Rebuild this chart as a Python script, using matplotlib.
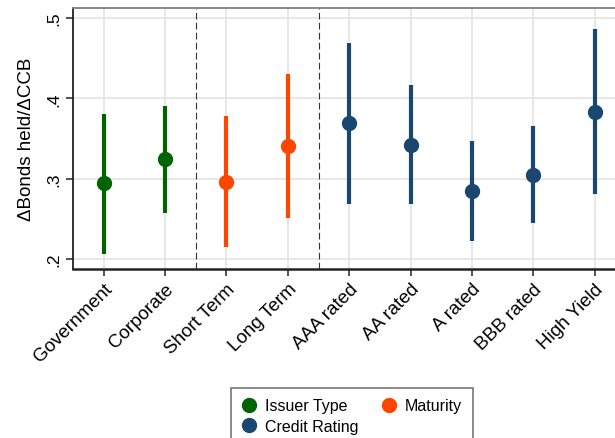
import matplotlib
matplotlib.use("Agg")
import matplotlib.pyplot as plt
from matplotlib.lines import Line2D

plt.rcParams['font.family'] = ['Liberation Sans', 'DejaVu Sans']

# categories and estimates
categories = ["Government", "Corporate", "Short Term", "Long Term",
              "AAA rated", "AA rated", "A rated", "BBB rated", "High Yield"]
estimate = [0.295, 0.325, 0.296, 0.341, 0.369, 0.342, 0.285, 0.305, 0.383]
ci_low = [0.207, 0.258, 0.215, 0.251, 0.269, 0.269, 0.223, 0.245, 0.281]
ci_high = [0.381, 0.391, 0.378, 0.430, 0.469, 0.416, 0.347, 0.366, 0.486]
group = ["Issuer Type", "Issuer Type", "Maturity", "Maturity",
         "Credit Rating", "Credit Rating", "Credit Rating", "Credit Rating", "Credit Rating"]
group_colors = {"Issuer Type": "#006400", "Maturity": "#ff4500", "Credit Rating": "#1a476f"}
yticks = [0.2, 0.3, 0.4, 0.5]
ytick_labels = [".2", ".3", ".4", ".5"]

fig = plt.figure(figsize=(6.15, 4.39), dpi=100)
ax = fig.add_axes([0.1187, 0.385, 0.8813, 0.595])

for i in range(len(categories)):
    c = group_colors[group[i]]
    ax.plot([i, i], [ci_low[i], ci_high[i]], color=c, lw=3.0, solid_capstyle='butt', zorder=3)
    ax.plot(i, estimate[i], 'o', color=c, ms=10, zorder=4)

# separators between groups
for xs in [1.5, 3.5]:
    ax.axvline(xs, color='#333333', lw=0.8, ls=(0, (6, 3)), zorder=2)

ax.set_xlim(-0.5, 8.33)
ax.set_ylim(0.1878, 0.5125)
ax.set_xticks(range(len(categories)))
ax.set_xticklabels(categories, rotation=45, ha='right', rotation_mode='anchor', fontsize=13.5)
ax.set_yticks(yticks)
ax.set_yticklabels(ytick_labels, rotation=90, va='center', fontsize=12.5)
ax.set_ylabel("ΔBonds held/ΔCCB", fontsize=13.5, labelpad=8)

ax.grid(True, color='#e3e3e3', lw=1.2, zorder=0)
ax.set_axisbelow(True)
ax.tick_params(axis='both', length=5, width=1.2, color='#333333')
ax.tick_params(axis='x', pad=3)

ax.spines['top'].set_color('#808080')
ax.spines['top'].set_linewidth(1.3)
ax.spines['right'].set_visible(False)
ax.spines['left'].set_color('#222222')
ax.spines['left'].set_linewidth(1.3)
ax.spines['bottom'].set_color('#222222')
ax.spines['bottom'].set_linewidth(1.8)

handles = [Line2D([], [], ls='', marker='o', ms=10, color=group_colors[g]) for g in
           ["Issuer Type", "Credit Rating", "Maturity"]]
leg = fig.legend(handles, ["Issuer Type", "Credit Rating", "Maturity"], ncol=2,
                 loc='upper left', bbox_to_anchor=(0.3756, 0.1139), borderaxespad=0,
                 fontsize=11.5, frameon=True, fancybox=False, edgecolor='#555555',
                 handlelength=1.0, handletextpad=0.5, columnspacing=1.4,
                 labelspacing=0.35, borderpad=0.65)
leg.get_frame().set_linewidth(1.2)

fig.savefig("out.png", dpi=100)
